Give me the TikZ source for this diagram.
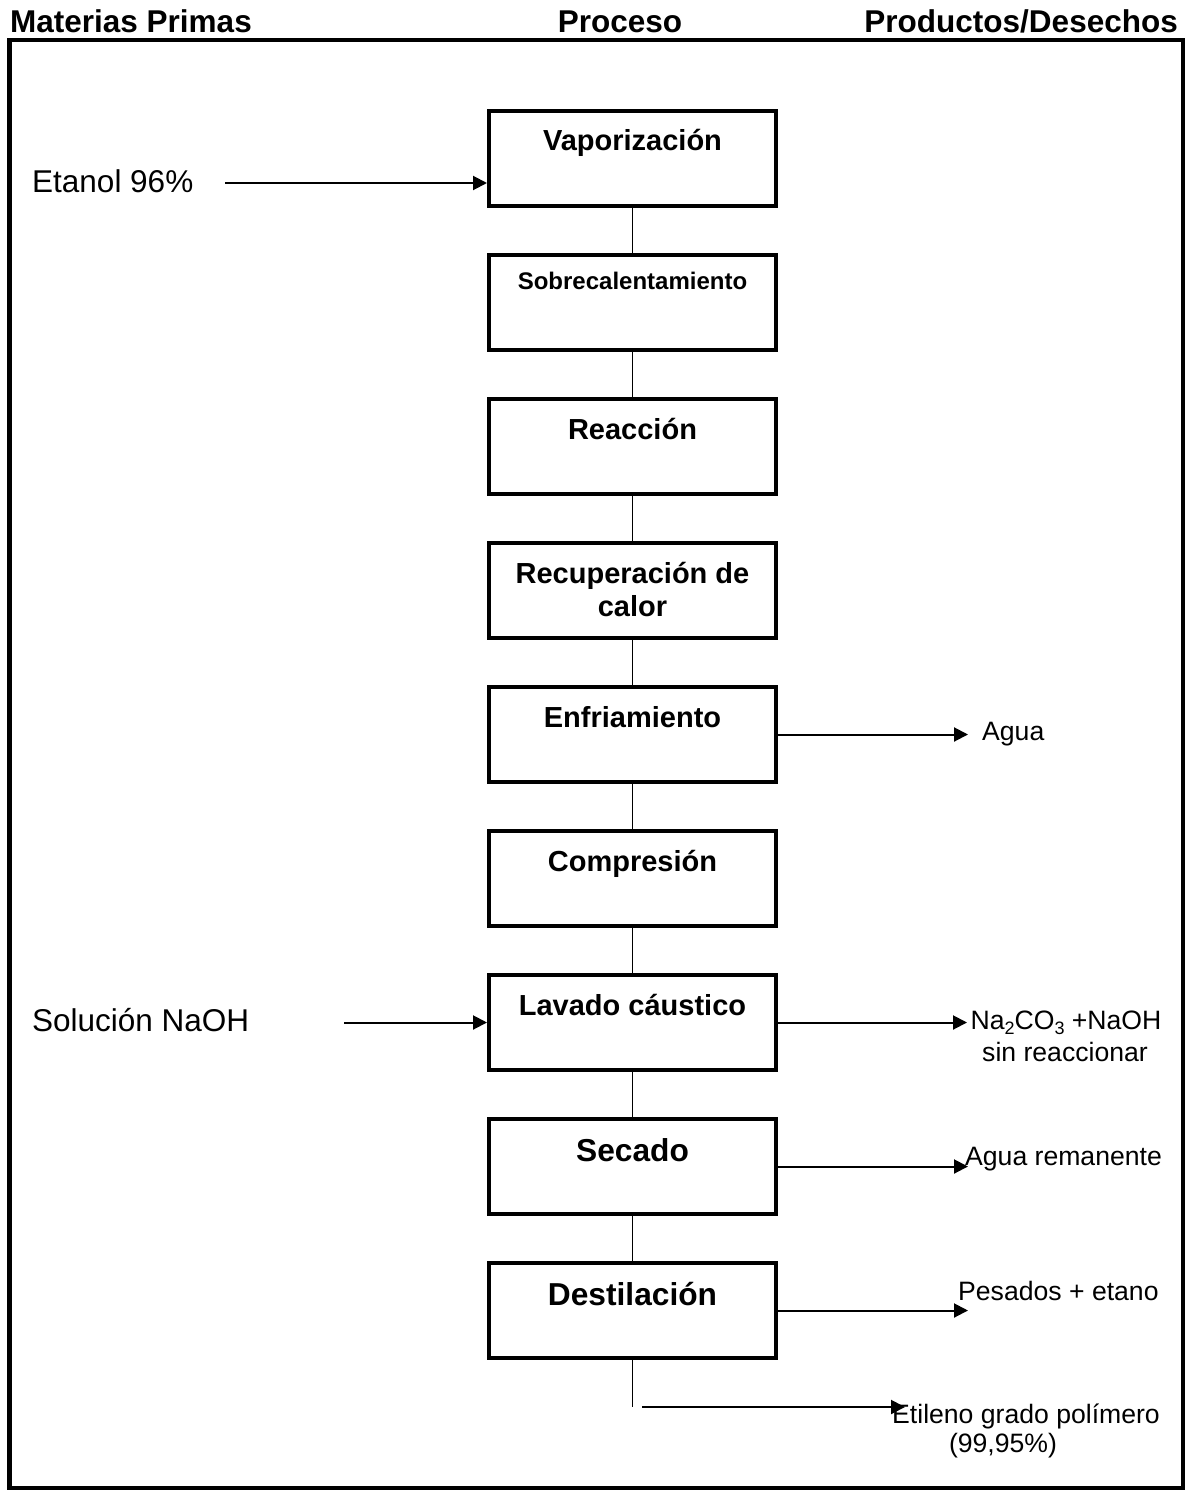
\documentclass[tikz,border=0pt]{standalone}
\usepackage{fontspec}
\setmainfont{Liberation Sans}
\usetikzlibrary{arrows.meta}

\newcommand{\fs}[1]{\fontsize{#1}{#1}\selectfont}
\newcommand{\lowidx}[1]{\raisebox{-0.22em}{\fs{18}#1}}

\begin{document}
\begin{tikzpicture}[x=1pt,y=-1pt,
  stage/.style={draw, line width=4pt, minimum width=287pt, minimum height=95pt, inner sep=0pt},
  stagetext/.style={anchor=base, inner sep=0pt, font=\fs{29}\bfseries},
  link/.style={line width=1.8pt},
  flow/.style={line width=2pt, -{Triangle[length=14pt,width=14pt]}},
  head/.style={anchor=base, inner sep=0pt, font=\fs{31.5}\bfseries},
  feed/.style={anchor=base west, inner sep=0pt, font=\fs{31.5}},
  prodtext/.style={anchor=base, inner sep=0pt, font=\fs{26.6}}]

\useasboundingbox (0,0) rectangle (1188,1490);

% column headings and outer frame
\node[head, anchor=base west] (hmat) at (10,33) {Materias Primas};
\node[head] (hproc) at (620,33) {Proceso};
\node[head, anchor=base east] (hprod) at (1178,33) {Productos/Desechos};
\draw[line width=4.5pt] (9.5,40) rectangle (1183,1488);

% process stages
\node[stage] (vap) at (632.5,158.5) {};
\node[stage] (sob) at (632.5,302.5) {};
\node[stage] (rea) at (632.5,446.5) {};
\node[stage] (rec) at (632.5,590.5) {};
\node[stage] (enf) at (632.5,734.5) {};
\node[stage] (com) at (632.5,878.5) {};
\node[stage] (lav) at (632.5,1022.5) {};
\node[stage] (sec) at (632.5,1166.5) {};
\node[stage] (des) at (632.5,1310.5) {};

\node[stagetext] (tvap) at ([yshift=-42pt]vap.north) {Vaporización};
\node[stagetext, font=\fs{24}\bfseries] (tsob) at ([yshift=-36pt]sob.north) {Sobrecalentamiento};
\node[stagetext] (trea) at ([yshift=-42pt]rea.north) {Reacción};
\node[stagetext] (trec1) at ([yshift=-42pt]rec.north) {Recuperación de};
\node[stagetext] (trec2) at ([yshift=-75pt]rec.north) {calor};
\node[stagetext] (tenf) at ([yshift=-42pt]enf.north) {Enfriamiento};
\node[stagetext] (tcom) at ([yshift=-42pt]com.north) {Compresión};
\node[stagetext] (tlav) at ([yshift=-42pt]lav.north) {Lavado cáustico};
\node[stagetext, font=\fs{31.7}\bfseries] (tsec) at ([yshift=-44pt]sec.north) {Secado};
\node[stagetext, font=\fs{31.7}\bfseries] (tdes) at ([yshift=-44pt]des.north) {Destilación};

% links between consecutive stages
\draw[link] (vap.south) -- (sob.north);
\draw[link] (sob.south) -- (rea.north);
\draw[link] (rea.south) -- (rec.north);
\draw[link] (rec.south) -- (enf.north);
\draw[link] (enf.south) -- (com.north);
\draw[link] (com.south) -- (lav.north);
\draw[link] (lav.south) -- (sec.north);
\draw[link] (sec.south) -- (des.north);

% raw material feeds
\node[feed] (etanol) at (32,193) {Etanol 96\%};
\coordinate (etanolin) at (225,183);
\draw[flow] (etanolin) -- (etanolin -| vap.west);

\node[feed] (naoh) at (32,1031) {Solución NaOH};
\coordinate (naohin) at (344,1022.5);
\draw[flow] (naohin) -- (lav.west);

% products and wastes
\coordinate (aguatip) at (968,734.5);
\draw[flow] (enf.east) -- (aguatip);
\node[prodtext, anchor=base west] (agua) at (982,740) {Agua};

\coordinate (lavtip) at (967,1022.5);
\draw[flow] (lav.east) -- (lavtip);
\node[prodtext] (resid1) at (1066,1029) {Na\lowidx{2}CO\lowidx{3} +NaOH};
\node[prodtext] (resid2) at (1065,1061) {sin reaccionar};

\coordinate (sectip) at (968,1166.5);
\draw[flow] (sec.east) -- (sectip);
\node[prodtext, anchor=base west] (aguarem) at (965,1165) {Agua remanente};

\coordinate (destip) at (968,1310.5);
\draw[flow] (des.east) -- (destip);
\node[prodtext, anchor=base west] (pesados) at (958,1300) {Pesados + etano};

\coordinate (desend) at (632.5,1407);
\draw[link] (des.south) -- (desend);
\coordinate (etistart) at (642,1407);
\coordinate (etitip) at (905,1407);
\draw[flow] (etistart) -- (etitip);
\node[prodtext, anchor=base west] (etileno1) at (892,1423) {Etileno grado polímero};
\node[prodtext] (etileno2) at (1003,1452) {(99,95\%)};

\end{tikzpicture}
\end{document}
